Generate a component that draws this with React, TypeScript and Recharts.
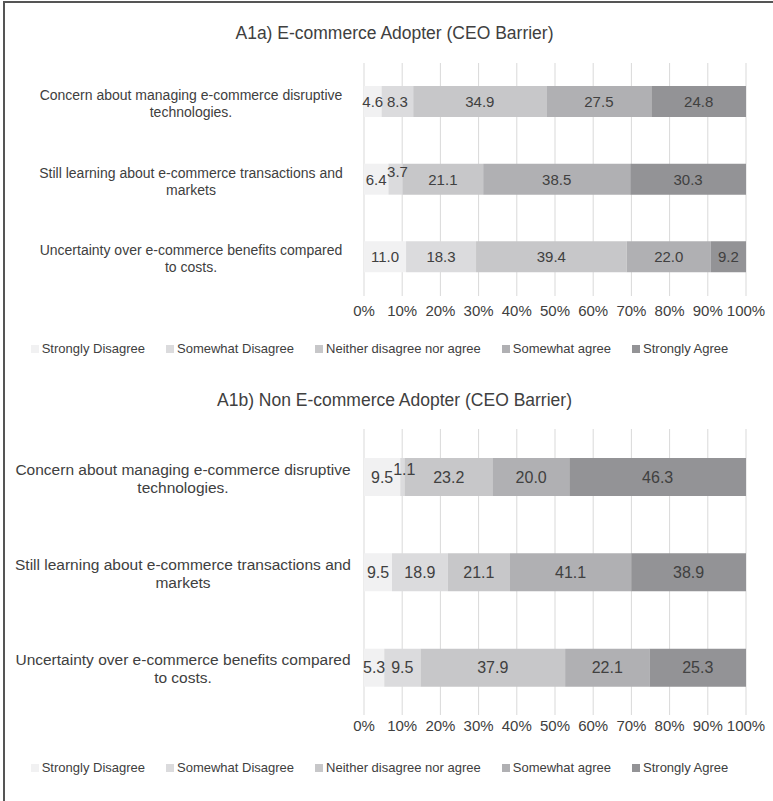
import React from "react";
import { BarChart, Bar, XAxis, YAxis, CartesianGrid, LabelList } from "recharts";

const seriesNames = [
  "Strongly Disagree",
  "Somewhat Disagree",
  "Neither disagree nor agree",
  "Somewhat agree",
  "Strongly Agree",
];
const seriesColors = ["#f1f1f2", "#dbdbdd", "#c7c7c9", "#b0b0b3", "#939396"];
const seriesKeys = ["sd", "swd", "neither", "swa", "sa"];

const categories = [
  "Concern about managing e-commerce disruptive\ntechnologies.",
  "Still learning about e-commerce transactions and\nmarkets",
  "Uncertainty over e-commerce benefits compared\nto costs.",
];

const percentTicks = [0, 0.1, 0.2, 0.3, 0.4, 0.5, 0.6, 0.7, 0.8, 0.9, 1];

// A1a) adopters
const adopterStronglyDisagree = [4.6, 6.4, 11.0];
const adopterSomewhatDisagree = [8.3, 3.7, 18.3];
const adopterNeither = [34.9, 21.1, 39.4];
const adopterSomewhatAgree = [27.5, 38.5, 22.0];
const adopterStronglyAgree = [24.8, 30.3, 9.2];

// A1b) non adopters
const nonStronglyDisagree = [9.5, 9.5, 5.3];
const nonSomewhatDisagree = [1.1, 18.9, 9.5];
const nonNeither = [23.2, 21.1, 37.9];
const nonSomewhatAgree = [20.0, 41.1, 22.1];
const nonStronglyAgree = [46.3, 38.9, 25.3];

const buildRows = (cols: number[][]) =>
  categories.map((name, i) => {
    const row: any = { name };
    cols.forEach((c, j) => {
      row[seriesKeys[j]] = c[i];
    });
    return row;
  });

const adopterData = buildRows([
  adopterStronglyDisagree,
  adopterSomewhatDisagree,
  adopterNeither,
  adopterSomewhatAgree,
  adopterStronglyAgree,
]);
const nonAdopterData = buildRows([
  nonStronglyDisagree,
  nonSomewhatDisagree,
  nonNeither,
  nonSomewhatAgree,
  nonStronglyAgree,
]);

const TEXT = "#404040";

type PanelProps = {
  title: string;
  data: any[];
  top: number;
  height: number;
  marginTop: number;
  barSize: number;
  valueFont: number;
  catFont: number;
  lineHeight: number;
  catShift: number;
  tickMargin: number;
  titleY: number;
  legendY: number;
};

const Panel = (p: PanelProps) => {
  const renderValue = (props: any) => {
    const { x, y, width, height, value } = props;
    const small = Number(value) < 4;
    return (
      <text
        x={x + width / 2 + (small ? 2 : 0)}
        y={y + height / 2 - (small ? 8 : 0)}
        textAnchor="middle"
        dominantBaseline="central"
        fontSize={p.valueFont}
        fill={TEXT}
      >
        {Number(value).toFixed(1)}
      </text>
    );
  };

  const renderCategory = (props: any) => {
    const { x, y, payload } = props;
    const lines = String(payload.value).split("\n");
    const startY = y - ((lines.length - 1) * p.lineHeight) / 2 + 1.5;
    return (
      <g>
        {lines.map((l, i) => (
          <text
            key={i}
            x={x - p.catShift}
            y={startY + i * p.lineHeight}
            textAnchor="middle"
            dominantBaseline="central"
            fontSize={p.catFont}
            fill={TEXT}
          >
            {l}
          </text>
        ))}
      </g>
    );
  };

  return (
    <>
      <div
        style={{
          position: "absolute",
          left: 8,
          top: p.titleY - 11,
          width: 773,
          textAlign: "center",
          fontSize: 17.5,
          lineHeight: "22px",
          color: TEXT,
        }}
      >
        {p.title}
      </div>
      <div style={{ position: "absolute", left: 0, top: p.top }}>
        <BarChart
          width={773}
          height={p.height}
          data={p.data}
          layout="vertical"
          stackOffset="expand"
          margin={{ top: p.marginTop, right: 27, left: 0, bottom: 5 }}
        >
          <CartesianGrid horizontal={false} stroke="#d9d9d9" />
          <XAxis
            type="number"
            domain={[0, 1]}
            ticks={percentTicks}
            tickFormatter={(v: number) => `${Math.round(v * 100)}%`}
            axisLine={false}
            tickLine={false}
            tickSize={0}
            tickMargin={p.tickMargin}
            height={25}
            interval={0}
            tick={{ fontSize: 15, fill: TEXT }}
          />
          <YAxis
            type="category"
            dataKey="name"
            width={364}
            axisLine={false}
            tickLine={false}
            tickSize={0}
            tick={renderCategory}
          />
          {seriesKeys.map((k, i) => (
            <Bar
              key={k}
              dataKey={k}
              name={seriesNames[i]}
              stackId="a"
              fill={seriesColors[i]}
              barSize={p.barSize}
              isAnimationActive={false}
            >
              <LabelList dataKey={k} content={renderValue} />
            </Bar>
          ))}
        </BarChart>
      </div>
      <div
        style={{
          position: "absolute",
          left: -7,
          top: p.legendY - 8,
          width: 773,
          display: "flex",
          justifyContent: "center",
          fontSize: 13,
          lineHeight: "16px",
          color: TEXT,
        }}
      >
        {seriesNames.map((n, i) => (
          <div
            key={n}
            style={{ display: "flex", alignItems: "center", marginRight: i < 4 ? 21 : 0 }}
          >
            <span
              style={{
                width: 8,
                height: 8,
                background: seriesColors[i],
                marginRight: 3,
                display: "inline-block",
              }}
            />
            {n}
          </div>
        ))}
      </div>
    </>
  );
};

export default function App() {
  return (
    <div
      style={{
        position: "absolute",
        left: 0,
        top: 0,
        width: 773,
        height: 801,
        background: "#fff",
        overflow: "hidden",
        fontFamily: "'Liberation Sans', Arial, sans-serif",
      }}
    >
      <div style={{ position: "absolute", left: 3, top: 1, width: 770, height: 1.5, background: "#555" }} />
      <div style={{ position: "absolute", left: 3, top: 1, width: 1.5, height: 800, background: "#555" }} />
      <Panel
        title="A1a) E-commerce Adopter (CEO Barrier)"
        data={adopterData}
        top={0}
        height={326}
        marginTop={63}
        barSize={31}
        valueFont={15}
        catFont={14}
        lineHeight={17}
        catShift={171}
        tickMargin={9}
        titleY={33}
        legendY={349}
      />
      <Panel
        title="A1b) Non E-commerce Adopter (CEO Barrier)"
        data={nonAdopterData}
        top={380}
        height={365}
        marginTop={49}
        barSize={38}
        valueFont={16}
        catFont={15.5}
        lineHeight={18}
        catShift={179}
        tickMargin={5}
        titleY={400}
        legendY={768}
      />
    </div>
  );
}
